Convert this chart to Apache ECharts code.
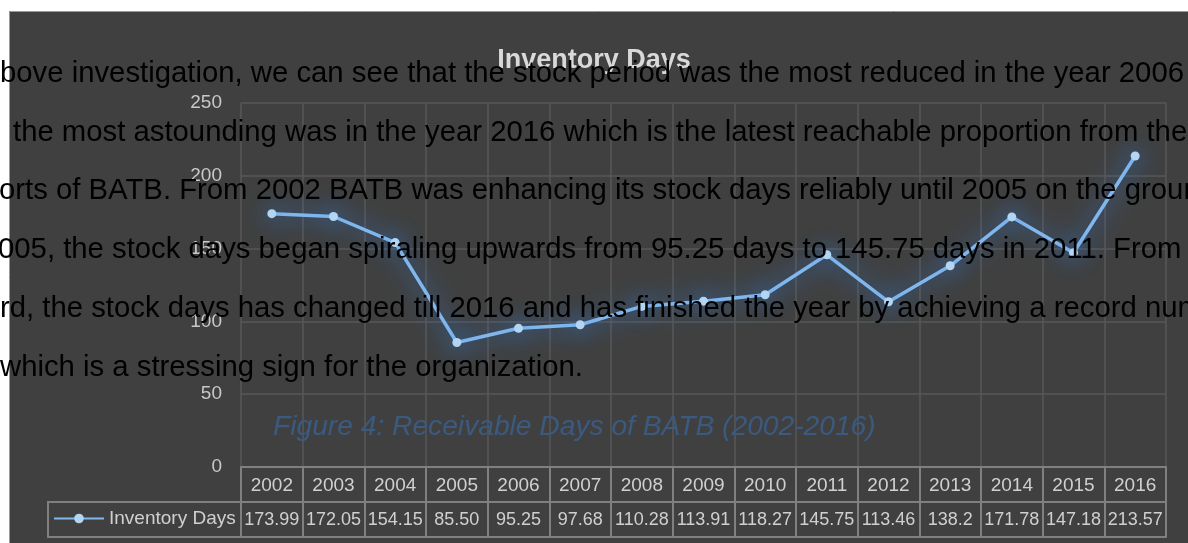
<!DOCTYPE html>
<html>
<head>
<meta charset="utf-8">
<script src="https://cdn.jsdelivr.net/npm/echarts@6/dist/echarts.min.js"></script>
<style>
html, body { margin: 0; padding: 0; background: #fff; }
#chart { width: 1188px; height: 543px; }
</style>
</head>
<body>
<div id="chart"></div>
<script>
// chart data
var years = ["2002", "2003", "2004", "2005", "2006", "2007", "2008", "2009", "2010", "2011", "2012", "2013", "2014", "2015", "2016"];
var inventoryDays = [173.99, 172.05, 154.15, 85.50, 95.25, 97.68, 110.28, 113.91, 118.27, 145.75, 113.46, 138.2, 171.78, 147.18, 213.57];
var tableLabels = ["173.99", "172.05", "154.15", "85.50", "95.25", "97.68", "110.28", "113.91", "118.27", "145.75", "113.46", "138.2", "171.78", "147.18", "213.57"];

// page text lying over the picture
var noteLines = [
    "bove investigation, we can see that the stock period was the most reduced in the year 2006",
    "the most astounding was in the year 2016 which is the latest reachable proportion from the",
    "orts of BATB. From 2002 BATB was enhancing its stock days reliably until 2005 on the grounds",
    "005, the stock days began spiraling upwards from 95.25 days to 145.75 days in 2011. From that",
    "rd, the stock days has changed till 2016 and has finished the year by achieving a record number",
    "which is a stressing sign for the organization."
];
var noteX = [0, 13, -1, -2, 0, 0];
var noteY = [74, 133, 191, 250, 309, 368];
var caption = "Figure 4: Receivable Days of BATB (2002-2016)";

var fam = '"Liberation Sans", Arial, sans-serif';
var ctx = document.createElement("canvas").getContext("2d");
ctx.font = '100px ' + fam;
var noteSize = 100 * 1183 / ctx.measureText(noteLines[0]).width;
ctx.font = 'italic 100px ' + fam;
var capSize = 100 * 604 / ctx.measureText(caption).width;

var graphics = [
    { type: "rect", shape: { x: 0, y: 0, width: 1188, height: 11 }, style: { fill: "#fff" } },
    { type: "rect", shape: { x: 0, y: 0, width: 9, height: 543 }, style: { fill: "#fff" } },
    { type: "polyline", shape: { points: [[9.5, 543], [9.5, 11.5], [1188, 11.5]] }, style: { stroke: "#9a9a9a", fill: null, lineWidth: 1 } },
    { type: "rect", shape: { x: 48, y: 502, width: 193, height: 35 }, style: { stroke: "#808080", fill: null, lineWidth: 2 } },
    {
        type: "text", x: 273, y: 427, z: 50,
        style: { text: caption, font: "italic " + capSize.toFixed(1) + "px " + fam, fill: "#3b5a80", verticalAlign: "middle" }
    }
];
for (var i = 0; i < noteLines.length; i++) {
    graphics.push({
        type: "text", x: noteX[i], y: noteY[i], z: 100,
        style: { text: noteLines[i], font: noteSize.toFixed(1) + "px " + fam, fill: "#000", verticalAlign: "middle" }
    });
}

var myChart = echarts.init(document.getElementById("chart"));
var option = {
    backgroundColor: "#404040",
    animation: false,
    title: {
        text: "Inventory Days",
        left: "center",
        top: 42,
        textStyle: { color: "#d9d9d9", fontWeight: "bold", fontSize: 27, fontFamily: fam }
    },
    legend: {
        data: ["Inventory Days"],
        left: 53,
        top: 509,
        padding: 0,
        itemWidth: 50,
        itemHeight: 12,
        textStyle: { color: "#d0d0d0", fontSize: 19, fontFamily: fam }
    },
    grid: { left: 241, right: 22, top: 103, bottom: 76 },
    xAxis: [
        {
            type: "category",
            data: years,
            boundaryGap: true,
            axisLine: { lineStyle: { color: "#808080", width: 2 } },
            axisTick: { show: true, interval: 0, length: 35, lineStyle: { color: "#808080", width: 2 } },
            axisLabel: { interval: 0, color: "#d0d0d0", fontSize: 19, margin: 9, fontFamily: fam },
            splitLine: { show: true, interval: 0, lineStyle: { color: "#575757", width: 1.5 } }
        },
        {
            type: "category",
            data: tableLabels,
            position: "bottom",
            offset: 35,
            axisLine: { lineStyle: { color: "#808080", width: 2 } },
            axisTick: { show: true, interval: 0, length: 35, lineStyle: { color: "#808080", width: 2 } },
            axisLabel: { interval: 0, color: "#d0d0d0", fontSize: 18, margin: 9, fontFamily: fam },
            splitLine: { show: false }
        },
        {
            type: "category",
            data: tableLabels,
            position: "bottom",
            offset: 70,
            axisLine: { lineStyle: { color: "#808080", width: 2 } },
            axisTick: { show: false },
            axisLabel: { show: false },
            splitLine: { show: false }
        }
    ],
    yAxis: {
        type: "value",
        min: 0,
        max: 250,
        interval: 50,
        axisLine: { show: false },
        axisTick: { show: false },
        axisLabel: { color: "#c8c8c8", fontSize: 19, margin: 19, fontFamily: fam },
        splitLine: { lineStyle: { color: "#575757", width: 1.5 } }
    },
    series: [
        {
            name: "Inventory Days",
            type: "line",
            data: inventoryDays,
            symbol: "circle",
            symbolSize: 9,
            lineStyle: { color: "#80b7ee", width: 3.5, shadowColor: "rgba(50,135,240,1)", shadowBlur: 24 },
            itemStyle: { color: "#b2d5f4", shadowColor: "rgba(50,135,240,1)", shadowBlur: 22 }
        }
    ],
    graphic: graphics
};
myChart.setOption(option);
</script>
</body>
</html>
